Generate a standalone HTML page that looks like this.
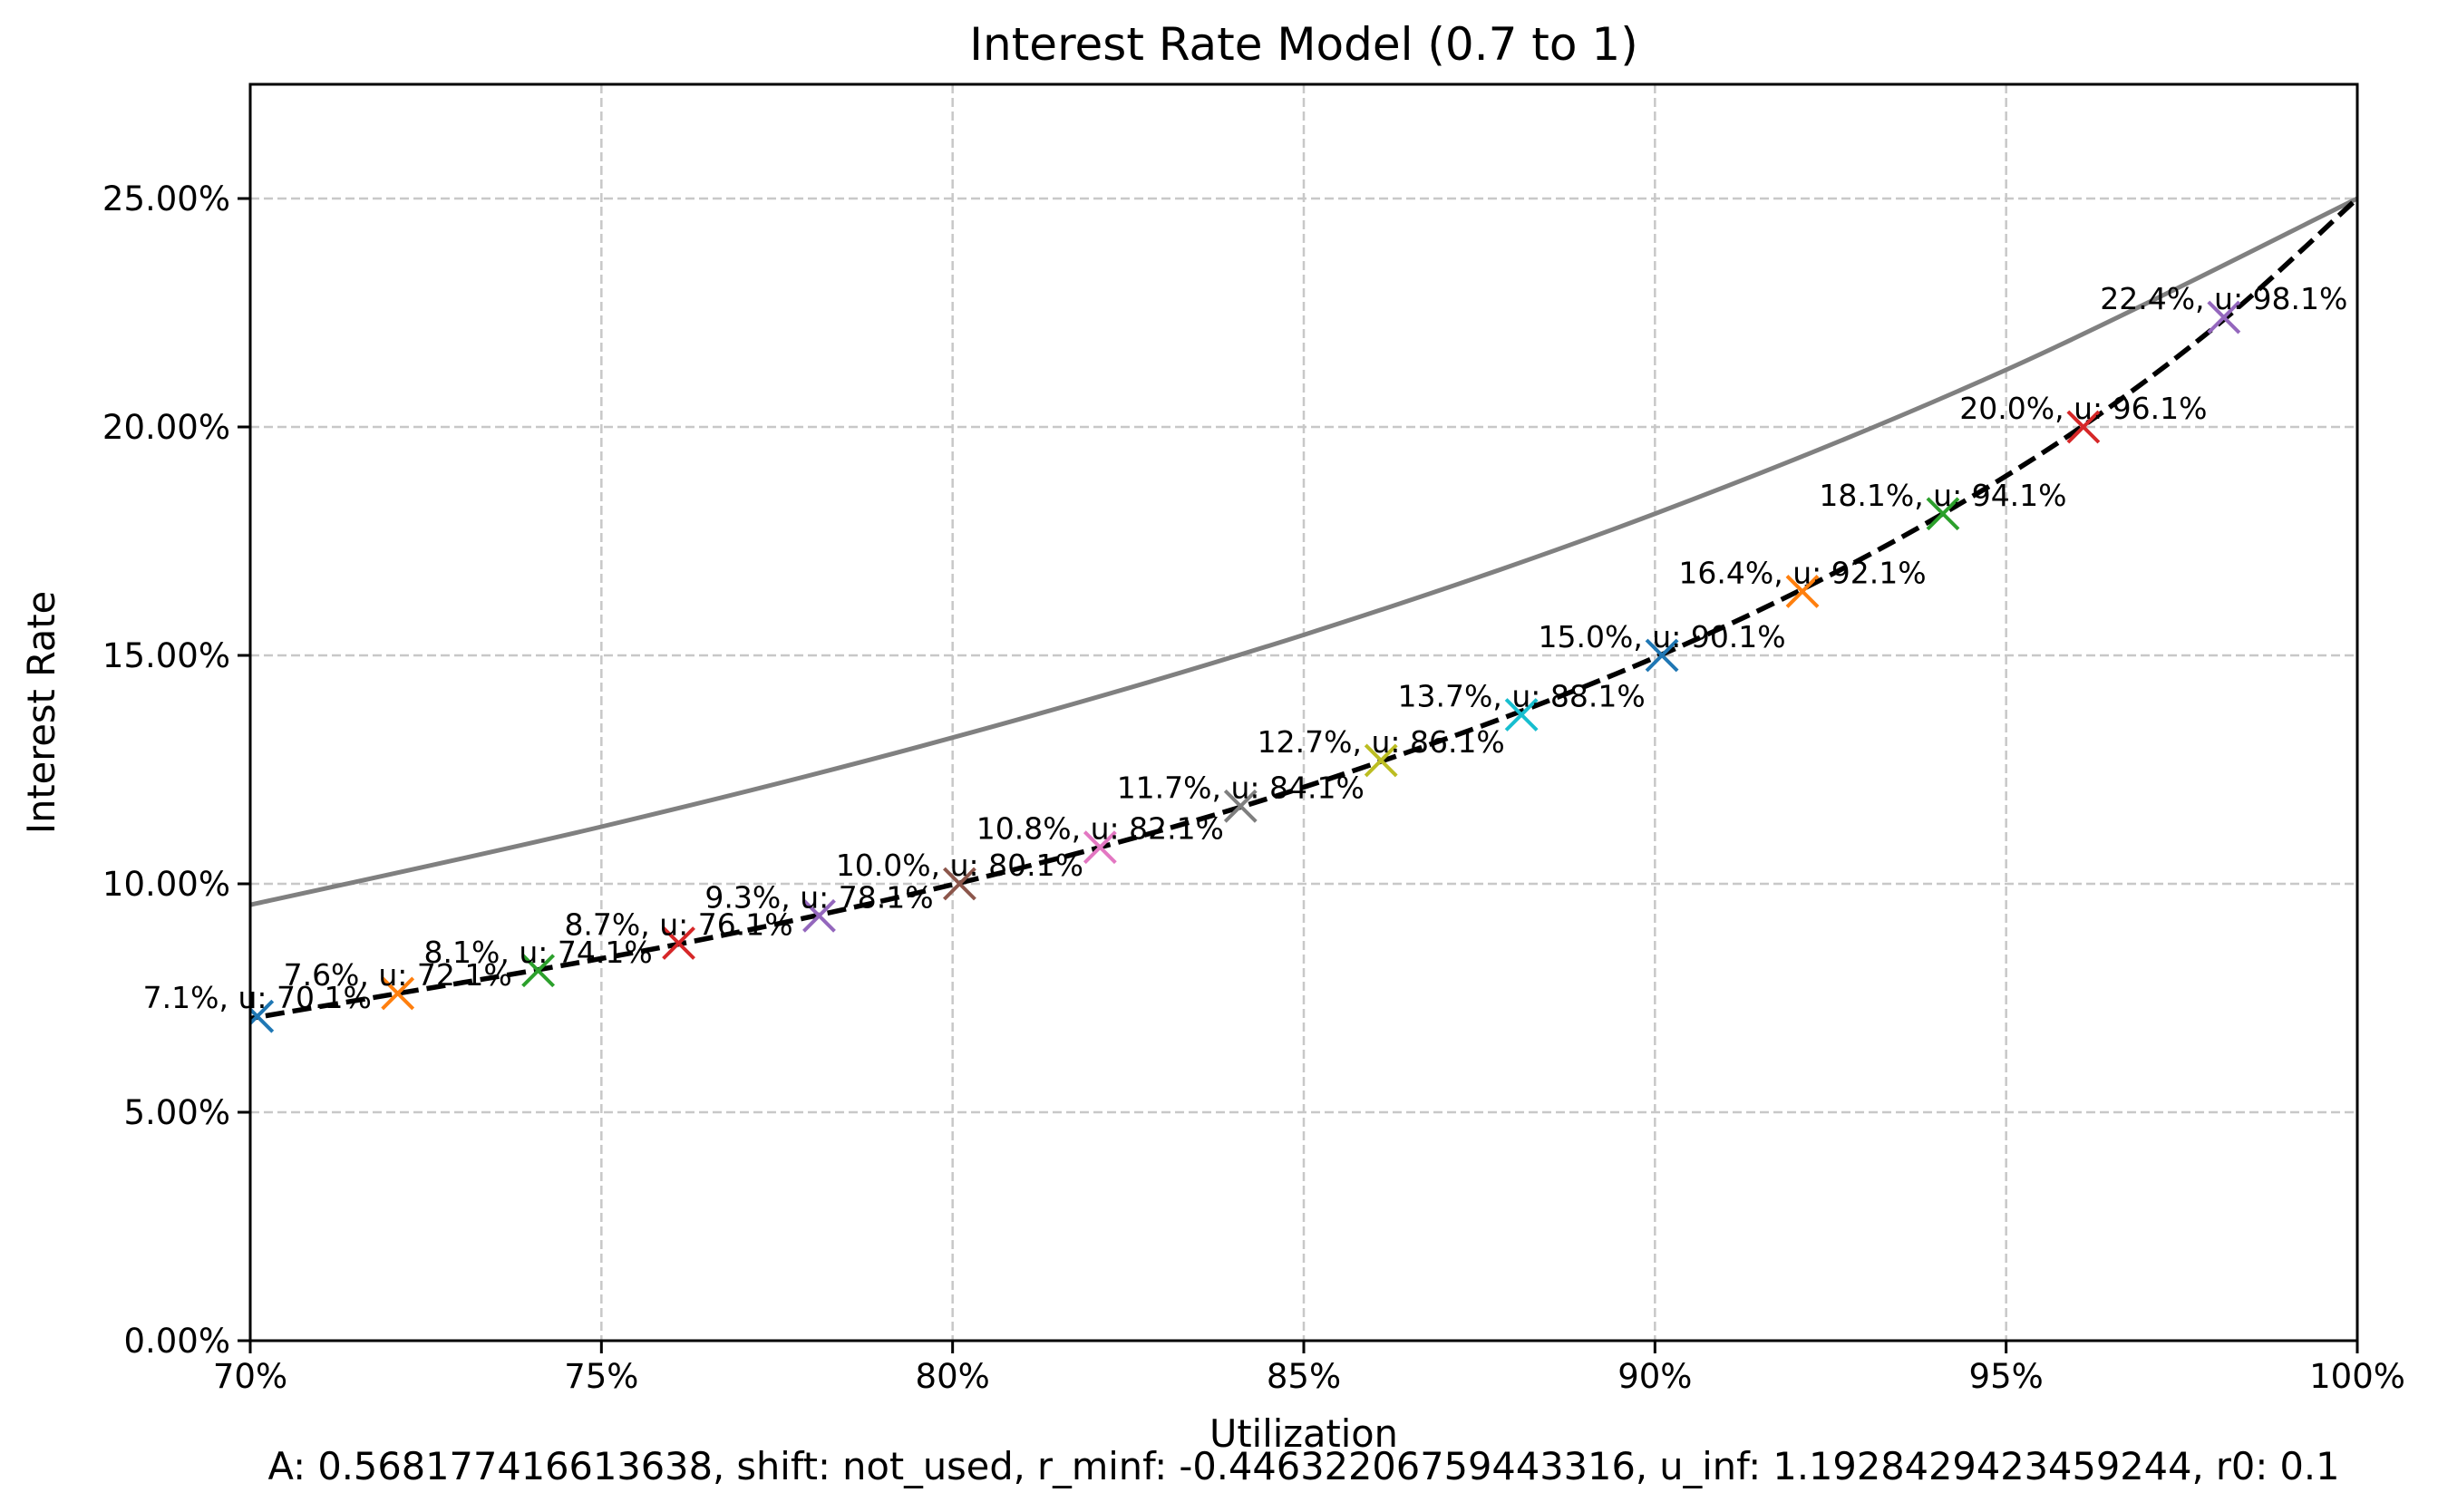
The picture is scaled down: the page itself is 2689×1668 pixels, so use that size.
<!DOCTYPE html>
<html><head><meta charset="utf-8"><style>
html,body{margin:0;padding:0;background:#fff;}
svg{display:block;font-family:"DejaVu Sans","Liberation Sans",sans-serif;}
</style></head><body>
<svg id="chart" width="2689" height="1668" viewBox="0 0 2689 1668" xmlns="http://www.w3.org/2000/svg">
<defs><clipPath id="plotclip"><rect x="276" y="93" width="2324" height="1386"/></clipPath></defs>
<rect x="0" y="0" width="2689" height="1668" fill="#fff"/>
<g id="grid"></g>
<g id="series" clip-path="url(#plotclip)"></g>
<g id="labels"></g>
<rect x="276" y="93" width="2324" height="1386" fill="none" stroke="#000" stroke-width="3"/>
<g id="ticks"></g>
<text x="1438" y="66" text-anchor="middle" font-size="50">Interest Rate Model (0.7 to 1)</text>
<text x="1438" y="1596" text-anchor="middle" font-size="41.5">Utilization</text>
<text transform="translate(60,786) rotate(-90)" text-anchor="middle" font-size="41.5">Interest Rate</text>
<text x="1438" y="1632" text-anchor="middle" font-size="41.5">A: 0.568177416613638, shift: not_used, r_minf: -0.44632206759443316, u_inf: 1.1928429423459244, r0: 0.1</text>
</svg>
<script>
const xTicks = [70, 75, 80, 85, 90, 95, 100];
const xTickLabels = ["70%", "75%", "80%", "85%", "90%", "95%", "100%"];
const yTicks = [0, 5, 10, 15, 20, 25];
const yTickLabels = ["0.00%", "5.00%", "10.00%", "15.00%", "20.00%", "25.00%"];
const markerU = [70.1, 72.1, 74.1, 76.1, 78.1, 80.1, 82.1, 84.1, 86.1, 88.1, 90.1, 92.1, 94.1, 96.1, 98.1];
const markerR = [7.1, 7.6, 8.1, 8.7, 9.3, 10.0, 10.8, 11.7, 12.7, 13.7, 15.0, 16.4, 18.1, 20.0, 22.4];
const markerColors = ["#1f77b4","#ff7f0e","#2ca02c","#d62728","#9467bd","#8c564b","#e377c2","#7f7f7f","#bcbd22","#17becf","#1f77b4","#ff7f0e","#2ca02c","#d62728","#9467bd"];
const dashU = [70, 70.1, 72.1, 74.1, 76.1, 78.1, 80.1, 82.1, 84.1, 86.1, 88.1, 90.1, 92.1, 94.1, 96.1, 98.1, 100];
const dashR = [7.05, 7.08, 7.6, 8.12, 8.68, 9.32, 10.02, 10.8, 11.68, 12.68, 13.78, 15.02, 16.45, 18.1, 20.03, 22.35, 25.0];
const grayU = [70, 75, 80, 85, 90, 95, 100];
const grayR = [9.54, 11.25, 13.2, 15.45, 18.1, 21.25, 25.0];

const X0 = 276, X1 = 2600, Y0 = 1479, Y1 = 93;
const xMin = 70, xMax = 100, yMin = 0, yMax = 27.5;
function sx(v){ return X0 + (v - xMin) / (xMax - xMin) * (X1 - X0); }
function sy(v){ return Y0 - (v - yMin) / (yMax - yMin) * (Y0 - Y1); }
const NS = "http://www.w3.org/2000/svg";
function mk(tag, attrs, parent){ const e = document.createElementNS(NS, tag); for (const k in attrs) e.setAttribute(k, attrs[k]); parent.appendChild(e); return e; }
const grid = document.getElementById('grid'), ticks = document.getElementById('ticks'), series = document.getElementById('series'), labels = document.getElementById('labels');

xTicks.forEach((t, i) => {
  const x = sx(t);
  if (t > xMin && t < xMax) {
    const g = mk('line', {x1:x, y1:Y1, x2:x, y2:Y0, stroke:'#c8c8c8', 'stroke-width':2.5, 'stroke-dasharray':'10,5'}, grid);
    
    
  }
  const tk = mk('line', {x1:x, y1:Y0, x2:x, y2:Y0+14, stroke:'#000', 'stroke-width':3}, ticks);
  
  
  const tl = mk('text', {x:x, y:Y0+52, 'text-anchor':'middle', 'font-size':37}, ticks);
  tl.textContent = xTickLabels[i];
  
  
});
yTicks.forEach((t, i) => {
  const y = sy(t);
  if (t > yMin) {
    const g = mk('line', {x1:X0, y1:y, x2:X1, y2:y, stroke:'#c8c8c8', 'stroke-width':2.5, 'stroke-dasharray':'10,5'}, grid);
    
    
  }
  const tk = mk('line', {x1:X0-14, y1:y, x2:X0, y2:y, stroke:'#000', 'stroke-width':3}, ticks);
  
  
  const tl = mk('text', {x:X0-22, y:y+13, 'text-anchor':'end', 'font-size':37}, ticks);
  tl.textContent = yTickLabels[i];
  
  
});

function smoothPath(us, rs){
  const p = us.map((u, i) => [sx(u), sy(rs[i])]);
  let d = 'M' + p[0][0] + ',' + p[0][1];
  for (let i = 0; i < p.length - 1; i++) {
    const p0 = p[Math.max(0, i-1)], p1 = p[i], p2 = p[i+1], p3 = p[Math.min(p.length-1, i+2)];
    const c1 = [p1[0] + (p2[0]-p0[0])/6, p1[1] + (p2[1]-p0[1])/6];
    const c2 = [p2[0] - (p3[0]-p1[0])/6, p2[1] - (p3[1]-p1[1])/6];
    d += ' C' + c1[0] + ',' + c1[1] + ' ' + c2[0] + ',' + c2[1] + ' ' + p2[0] + ',' + p2[1];
  }
  return d;
}
const gray = mk('path', {d:smoothPath(grayU, grayR), fill:'none', stroke:'#808080', 'stroke-width':5}, series);


const dash = mk('path', {d:smoothPath(dashU, dashR), fill:'none', stroke:'#000', 'stroke-width':5.5, 'stroke-dasharray':'21,9'}, series);



markerU.forEach((u, i) => {
  const x = sx(u), y = sy(markerR[i]), h = 17;
  const g = mk('g', {stroke:markerColors[i], 'stroke-width':4}, series);
  
  
  mk('line', {x1:x-h, y1:y-h, x2:x+h, y2:y+h}, g);
  mk('line', {x1:x-h, y1:y+h, x2:x+h, y2:y-h}, g);
  const t = mk('text', {x:x, y:y-9, 'text-anchor':'middle', 'font-size':33}, labels);
  t.textContent = markerR[i].toFixed(1) + '%, u: ' + u.toFixed(1) + '%';
  
  
});
</script>
</body></html>
